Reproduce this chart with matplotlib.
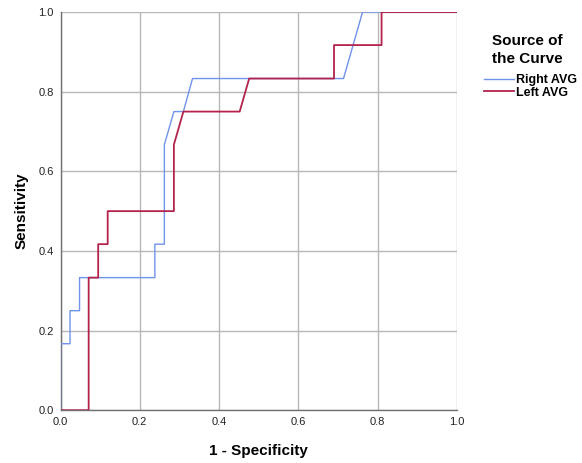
import matplotlib
matplotlib.use("Agg")
from matplotlib import pyplot as plt

plt.rcParams['font.family'] = ['Liberation Sans', 'DejaVu Sans']

#   ROC CURVE POINTS
right_fpr = [0.0, 0.0, 0.024, 0.024, 0.048, 0.048, 0.238, 0.238, 0.262, 0.262,
             0.286, 0.310, 0.333, 0.714, 0.762, 1.0]
right_tpr = [0.0, 0.167, 0.167, 0.25, 0.25, 0.333, 0.333, 0.417, 0.417, 0.667,
             0.75, 0.75, 0.833, 0.833, 1.0, 1.0]

left_fpr = [0.0, 0.071, 0.071, 0.095, 0.095, 0.119, 0.119, 0.286, 0.286,
            0.310, 0.452, 0.476, 0.690, 0.690, 0.810, 0.810, 1.0]
left_tpr = [0.0, 0.0, 0.333, 0.333, 0.417, 0.417, 0.5, 0.5, 0.667,
            0.75, 0.75, 0.833, 0.833, 0.917, 0.917, 1.0, 1.0]

ticks = [0.0, 0.2, 0.4, 0.6, 0.8, 1.0]
tick_labels = ["0.0", "0.2", "0.4", "0.6", "0.8", "1.0"]

fig = plt.figure(figsize=(5.82, 4.63), dpi=100)
ax = fig.add_axes([0.104, 0.114, 0.681, 0.860])

ax.plot(right_fpr, right_tpr, color='#6f92ea', linewidth=1.0, label='Right AVG', zorder=3)
ax.plot(left_fpr, left_tpr, color='#b3234b', linewidth=1.3, label='Left AVG', zorder=4)

ax.set_xlim(0, 1)
ax.set_ylim(0, 1)
ax.set_xticks(ticks)
ax.set_xticklabels(tick_labels)
ax.set_yticks(ticks)
ax.set_yticklabels(tick_labels)
ax.tick_params(length=0, labelsize=8, pad=5, colors='#222222')
ax.grid(True, color='#b8b8b8', linewidth=1.0)
ax.set_axisbelow(True)
for side in ['top', 'right']:
    ax.spines[side].set_visible(False)
for side in ['left', 'bottom']:
    ax.spines[side].set_color('#707070')
    ax.spines[side].set_linewidth(1.0)

ax.set_xlabel('1 - Specificity', fontsize=11, fontweight='bold', labelpad=12)
ax.set_ylabel('Sensitivity', fontsize=11, fontweight='bold', labelpad=7)

#   LEGEND TITLE SEPARATE SO THE GAP MATCHES
fig.text(527 / 582, 1 - 50 / 463, 'Source of\nthe Curve', ha='center', va='center',
         fontsize=11, fontweight='bold', linespacing=1.35)
ax.legend(loc='upper left', bbox_to_anchor=(484 / 582, 1 - 74 / 463),
          bbox_transform=fig.transFigure,
          frameon=False, handlelength=2.4, handletextpad=0.15,
          labelspacing=0.05, borderpad=0.0, borderaxespad=0.0,
          prop={'weight': 'bold', 'size': 9})

fig.savefig('out.png', dpi=100)
